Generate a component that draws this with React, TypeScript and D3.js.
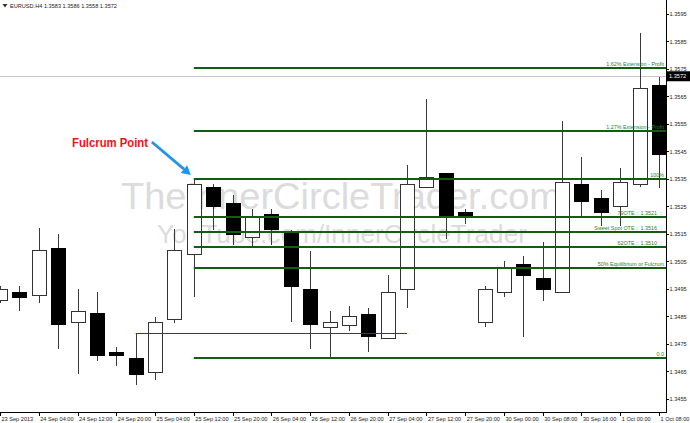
import React from 'react';
import * as d3 from 'd3';

const W = 690;
const H = 423;

// EURUSD H4 candles (index 0 .. 34)
const opens = [1.3491, 1.3494, 1.34928, 1.35099, 1.3483, 1.34863, 1.34721, 1.34699, 1.34648, 1.34841,
  1.35077, 1.35321, 1.35263, 1.35139, 1.35223, 1.35161, 1.3495, 1.34812, 1.34819, 1.34859,
  1.34772, 1.3495, 1.35321, 1.35372, 1.3523, 1.3483, 1.34939, 1.35041, 1.3499, 1.34939,
  1.35332, 1.35281, 1.35252, 1.35332, 1.35692];
const highs = [1.34961, 1.34961, 1.35172, 1.3515, 1.3495, 1.34939, 1.34739, 1.3479, 1.34848, 1.35168,
  1.3535, 1.35332, 1.35292, 1.35241, 1.35241, 1.35165, 1.35088, 1.3487, 1.34888, 1.34881,
  1.35001, 1.35401, 1.35641, 1.35372, 1.35241, 1.34961, 1.35052, 1.3507, 1.35121, 1.35561,
  1.3543, 1.3531, 1.3539, 1.35881, 1.35721];
const lows = [1.34899, 1.3487, 1.34899, 1.34732, 1.34641, 1.34688, 1.3467, 1.34601, 1.34619, 1.34826,
  1.34921, 1.35165, 1.3511, 1.35103, 1.3511, 1.3483, 1.34732, 1.34703, 1.34797, 1.34721,
  1.34772, 1.34881, 1.35317, 1.35132, 1.35186, 1.34812, 1.34921, 1.34775, 1.34906, 1.34939,
  1.35212, 1.35179, 1.35179, 1.35321, 1.35317];
const closes = [1.3495, 1.34922, 1.35092, 1.34823, 1.3487, 1.3471, 1.3471, 1.34641, 1.3483, 1.35092,
  1.35332, 1.35252, 1.3515, 1.35212, 1.35168, 1.34961, 1.34823, 1.3483, 1.34852, 1.34779,
  1.34939, 1.35332, 1.35357, 1.35219, 1.35219, 1.3495, 1.3503, 1.35001, 1.3495, 1.35339,
  1.3527, 1.3523, 1.35339, 1.35681, 1.35441];

const timeTickIndex = [0, 2, 4, 6, 8, 10, 12, 14, 16, 18, 20, 22, 24, 26, 28, 30, 32, 34];
const timeTickLabels = ['23 Sep 2013', '24 Sep 04:00', '24 Sep 12:00', '24 Sep 20:00', '25 Sep 04:00',
  '25 Sep 12:00', '25 Sep 20:00', '26 Sep 04:00', '26 Sep 12:00', '26 Sep 20:00', '27 Sep 04:00',
  '27 Sep 12:00', '27 Sep 20:00', '30 Sep 00:00', '30 Sep 08:00', '30 Sep 16:00', '1 Oct 00:00', '1 Oct 08:00'];

const priceTicks = [1.3595, 1.3585, 1.3575, 1.3565, 1.3555, 1.3545, 1.3535, 1.3525, 1.3515, 1.3505,
  1.3495, 1.3485, 1.3475, 1.3465, 1.3455];

const fibLow = 1.347;
const fibHigh = 1.3535;
const fibRatios = [1.62, 1.27, 1.0, 0.79, 0.705, 0.62, 0.5, 0.0];
const fibLabels = ['1.62% Extension - Profit', '1.27% Extension - Profit', '100%', '79OTE  :: 1.3521',
  'Sweet Spot OTE  :: 1.3516', '62OTE  :: 1.3510', '50% Equilibrium or Fulcrum', '0.0'];
const fibMarker = [false, false, false, true, true, true, false, false];
const fibStartIndex = 10;

const supportLevel = 1.3479;
const supportStart = 7;
const supportEnd = 21;

const currentPrice = 1.3572;
const headerText = 'EURUSD.H4  1.3583 1.3586 1.3558 1.3572';

const FONT = '"Liberation Sans", Arial, sans-serif';

export default function App() {
  const x = d3.scaleLinear().domain([0, 34]).range([0, 659]);
  const y = d3.scaleLinear().domain([1.3455, 1.3595]).range([399, 14]);
  const axisX = 666;
  const axisY = 412;
  const bodyHalf = 7;
  const snap = (v: number) => Math.round(v) + 0.5;

  const fulcX = x(fibStartIndex);
  const tipX = fulcX - 3;
  const tipY = y(highs[fibStartIndex]) - 4;
  const startX = tipX - 39;
  const startY = tipY - 33;
  const ang = Math.atan2(tipY - startY, tipX - startX);
  const ah = 9;
  const aw = 5;
  const baseX = tipX - ah * Math.cos(ang);
  const baseY = tipY - ah * Math.sin(ang);
  const arrowHead = [
    [tipX, tipY],
    [baseX + aw * Math.sin(ang), baseY - aw * Math.cos(ang)],
    [baseX - aw * Math.sin(ang), baseY + aw * Math.cos(ang)],
  ].map((p) => p.join(',')).join(' ');

  return (
    <svg width={W} height={H} style={{ position: 'absolute', left: 0, top: 0, background: '#fff' }}
      fontFamily={FONT}>
      <rect x={0} y={0} width={W} height={H} fill="#fff" />

      {/* watermark */}
      <text x={121} y={209} fontSize={37} fill="#dcdcdc" textLength={440} lengthAdjust="spacingAndGlyphs">
        TheInnerCircleTrader.com
      </text>
      <text x={157} y={243} fontSize={26} fill="#dcdcdc" textLength={370} lengthAdjust="spacingAndGlyphs">
        YouTube.com/InnerCircleTrader
      </text>

      {/* header */}
      <path d="M2.5,4 L7.5,4 L5,7.5 Z" fill="#333" />
      <text x={10} y={8} fontSize={5.6} fill="#222">{headerText}</text>

      {/* current price line */}
      <line x1={0} x2={axisX} y1={snap(y(currentPrice)) - 1} y2={snap(y(currentPrice)) - 1} stroke="#c8c8c8" strokeWidth={1} />

      {/* candles */}
      <g shapeRendering="crispEdges">
        {opens.map((o, i) => {
          const c = closes[i];
          const cx = snap(x(i));
          const up = c >= o;
          const top = y(Math.max(o, c));
          const bot = y(Math.min(o, c));
          return (
            <g key={i}>
              <line x1={cx} x2={cx} y1={y(highs[i])} y2={y(lows[i])} stroke="#3a3a3a" strokeWidth={1} />
              <rect x={Math.round(x(i)) - bodyHalf + 0.5} y={Math.round(top) + 0.5} width={bodyHalf * 2}
                height={Math.max(2, Math.round(bot - top))} fill={up ? '#fff' : '#000'} stroke={up ? '#333' : '#000'} strokeWidth={1} />
            </g>
          );
        })}
      </g>

      {/* support line */}
      <line x1={x(supportStart)} x2={x(supportEnd)} y1={snap(y(supportLevel))} y2={snap(y(supportLevel))}
        stroke="#8c1a1a" strokeWidth={1.2} />

      {/* fib levels */}
      {fibRatios.map((r, i) => {
        const level = fibLow + r * (fibHigh - fibLow);
        const ly = Math.round(y(level));
        return (
          <g key={i}>
            <line x1={x(fibStartIndex)} x2={axisX} y1={ly} y2={ly} stroke="#145c14" strokeWidth={2} />
            <text x={fibMarker[i] ? 657 : 664} y={ly - 2.5} fontSize={5.4} fill="#2f7d2f" textAnchor="end">
              {fibLabels[i]}
            </text>
            {fibMarker[i] && (
              <text x={660} y={ly - 2.5} fontSize={4.5} fill="#6a9a6a">::</text>
            )}
          </g>
        );
      })}

      {/* annotation */}
      <text x={72} y={146.5} fontSize={12.5} fontWeight="bold" fill="#e8141e" textLength={76} lengthAdjust="spacingAndGlyphs">
        Fulcrum Point
      </text>
      <line x1={startX} y1={startY} x2={baseX} y2={baseY} stroke="#2196e8" strokeWidth={2.8} />
      <polygon points={arrowHead} fill="#2196e8" />

      {/* axes */}
      <g shapeRendering="crispEdges">
        <line x1={axisX + 0.5} x2={axisX + 0.5} y1={0} y2={axisY} stroke="#000" />
        <line x1={0} x2={axisX + 1} y1={axisY + 0.5} y2={axisY + 0.5} stroke="#000" />
        {priceTicks.map((p) => (
          <line key={p} x1={axisX} x2={axisX + 3} y1={snap(y(p))} y2={snap(y(p))} stroke="#000" />
        ))}
        {timeTickIndex.map((ti) => (
          <line key={ti} x1={snap(x(ti))} x2={snap(x(ti))} y1={axisY} y2={axisY + 4} stroke="#000" />
        ))}
      </g>
      {priceTicks.map((p) => (
        <text key={p} x={669.5} y={y(p) + 2} fontSize={5.6} fill="#222">{p.toFixed(4)}</text>
      ))}
      {timeTickLabels.map((t, k) => (
        <text key={t} x={x(timeTickIndex[k]) + 1.5} y={421} fontSize={5.6} fill="#222">{t}</text>
      ))}

      {/* current price tag */}
      <rect x={axisX + 1} y={y(currentPrice) - 6} width={23} height={10} fill="#000" />
      <text x={669} y={y(currentPrice) + 1} fontSize={5.6} fill="#fff">{currentPrice.toFixed(4)}</text>
    </svg>
  );
}
